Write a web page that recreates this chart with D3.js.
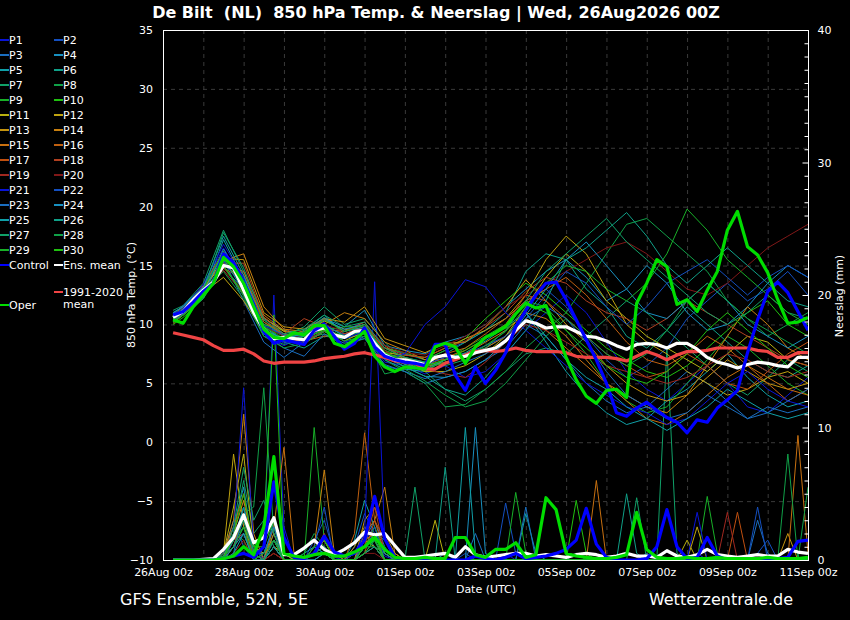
<!DOCTYPE html>
<html>
<head>
<meta charset="utf-8">
<script src="https://cdn.jsdelivr.net/npm/d3@7"></script>
<style>
body { margin: 0; background: #000; }
svg { display: block; font-family: "DejaVu Sans", sans-serif; }
</style>
</head>
<body>
<script>
// time steps (hours after 26Aug 00z)
var hours6 = d3.range(6, 385, 6);
var hours12 = [6].concat(d3.range(12, 385, 12));
var dateLabels = ["26Aug 00z", "28Aug 00z", "30Aug 00z", "01Sep 00z", "03Sep 00z",
                  "05Sep 00z", "07Sep 00z", "09Sep 00z", "11Sep 00z"];

// 6-hourly main lines, temperature (°C)
var ensMeanT = [10.6,11.1,12.1,12.9,13.6,15.0,14.8,12.9,11.0,9.6,8.8,8.9,8.8,8.7,9.5,9.7,
                9.1,8.9,9.4,9.5,8.4,7.4,7.0,7.0,6.8,6.6,7.2,7.4,7.2,7.3,7.6,7.8,
                8.0,8.6,9.5,10.3,10.1,9.7,9.8,9.8,9.4,9.0,8.9,8.6,8.2,7.9,8.3,8.4,
                8.3,8.0,8.4,8.4,7.9,7.2,6.8,6.6,6.3,6.6,6.8,6.7,6.5,6.4,7.2,7.2];
var controlT = [10.8,11.1,11.9,12.8,13.5,16.0,15.2,13.6,11.7,9.4,8.4,8.7,8.5,8.3,9.5,10.0,
                9.0,7.9,8.4,9.7,8.1,7.3,7.0,6.8,6.7,6.5,8.3,8.3,5.7,4.4,6.4,5.0,
                6.1,7.6,9.8,11.2,12.5,13.5,13.6,12.1,10.4,8.7,7.0,5.0,2.5,2.2,2.9,3.4,
                2.7,2.1,1.7,0.8,1.9,1.7,2.9,3.6,4.4,7.6,10.4,12.8,13.6,12.7,11.1,9.5];
var operT = [10.4,10.1,11.5,12.5,13.5,15.7,14.9,13.5,11.5,9.6,8.9,8.8,9.3,9.1,9.9,9.9,
             8.4,8.1,8.7,9.4,7.3,6.4,6.0,6.4,6.3,6.2,8.1,8.4,8.1,6.7,8.1,8.9,
             9.3,9.8,10.9,11.8,11.4,11.6,9.5,7.2,5.3,3.9,3.3,4.4,4.5,3.8,11.8,13.5,
             15.5,14.9,11.7,12.1,11.1,12.9,14.5,18.0,19.6,16.6,15.9,14.4,12.1,10.1,10.2,10.6];
var climT = [9.3,9.1,8.9,8.7,8.2,7.8,7.8,7.9,7.5,6.9,6.7,6.8,6.8,6.8,6.9,7.1,
             7.2,7.3,7.5,7.6,7.4,7.2,6.9,6.8,6.7,6.2,6.2,6.7,7.0,7.4,7.7,7.8,
             7.7,7.8,8.0,7.8,7.7,7.7,7.7,7.6,7.3,7.2,7.2,7.2,7.1,6.9,7.3,7.7,
             7.4,7.0,7.4,7.7,7.7,7.8,8.0,8.0,8.0,8.0,7.8,7.7,7.2,7.2,7.6,7.6];

// 6-hourly main lines, precipitation (mm)
var ensMeanP = [0,0,0,0.05,0.1,0.8,1.7,3.4,1.3,1.7,3.2,0.4,0.4,0.9,1.5,0.8,
                0.4,0.8,1.3,2.1,1.9,2.0,1.1,0.2,0.2,0.3,0.4,0.5,0.2,1.0,0.4,0.2,
                0.3,0.4,0.5,0.5,0.3,0.4,0.3,0.2,0.4,0.5,0.4,0.2,0.3,0.5,0.3,0.3,
                0.2,0.7,0.3,0.2,0.4,0.8,0.4,0.3,0.2,0.3,0.4,0.3,0.3,0.8,0.6,0.5];
var controlP = [0,0,0,0,0,0.1,0.3,0.5,0.2,1.0,5.9,1.7,0.2,0.1,0.5,1.8,
                0.6,0.3,0.5,1.5,4.8,1.6,0.2,0,0,0,0,0,0,0,0.3,0.1,
                0,0.2,0.5,0.1,0.2,0.3,0.5,0.8,1.5,3.9,1.2,0.2,0,0,0,0.1,
                1.0,3.8,1.0,0.1,0.2,1.7,0.3,0,0,0,0,0,0.1,0.2,1.4,1.5];
var operP = [0,0,0,0,0,0.1,0.3,1.0,0.4,2.5,7.8,0.5,0.3,0.2,0.4,0.5,
             0.3,0.3,0.6,1.0,1.7,0.8,0.2,0.1,0.1,0.2,0.1,0.1,1.7,1.7,0.4,0.2,
             0.8,0.8,1.3,0.2,0.4,4.7,3.8,0.5,0.3,0.2,0.1,0.1,0.2,0.4,3.6,0.8,
             0.2,0.1,0.1,0.2,0.1,0.1,0.2,0.1,0.1,0.1,0.1,0.2,0.1,0.1,0.1,0.2];

// perturbed members, 12-hourly temperature (°C)
var membersT = [
  [10.8,11.3,13.2,16.5,13.5,9.0,8.2,9.0,10.2,8.5,9.0,6.8,6.5,5.8,6.5,5.5,6.0,7.5,9.5,11.0,12.5,11.0,8.5,6.0,4.5,3.5,5.0,6.5,5.0,3.0,2.5,4.0,5.5],
  [10.2,11.0,12.6,14.8,13.0,10.0,9.2,8.5,9.8,9.5,10.2,8.0,7.5,7.0,7.8,8.5,9.5,10.5,12.0,13.0,11.5,9.0,7.0,5.5,6.5,8.0,10.5,12.0,13.5,12.0,13.0,14.5,12.5],
  [11.0,11.5,13.0,15.5,12.0,8.5,7.2,8.5,9.5,8.0,9.0,6.5,6.0,5.0,5.5,6.0,7.0,8.0,10.0,9.0,7.0,5.0,3.5,2.5,3.0,4.5,6.0,5.0,3.5,2.0,3.0,2.5,3.0],
  [10.5,11.2,12.8,16.0,14.0,10.5,9.5,9.2,10.5,9.8,11.2,8.2,7.8,7.5,8.5,9.0,10.0,11.5,13.0,14.5,15.5,14.0,12.0,13.0,15.0,13.5,11.0,9.5,10.0,11.5,13.5,15.0,14.0],
  [10.9,11.0,12.5,17.2,13.8,9.5,8.8,9.5,10.8,9.2,9.8,7.0,6.2,6.0,7.0,7.5,8.0,9.0,11.0,8.5,6.0,4.0,2.5,1.5,2.0,3.5,4.5,6.0,7.5,5.5,4.0,3.0,3.5],
  [10.3,10.8,12.3,15.0,12.5,9.2,8.5,8.0,9.0,8.8,9.2,7.5,7.2,6.8,7.5,8.5,9.5,11.0,14.5,16.0,15.5,13.0,11.5,9.0,8.0,9.5,11.5,10.0,8.5,7.0,6.0,5.5,6.5],
  [11.2,11.6,13.5,18.0,14.5,10.2,9.0,9.8,11.5,10.0,10.5,8.5,6.8,6.0,4.5,3.5,4.5,6.0,7.5,8.0,7.5,9.0,10.5,12.0,11.0,9.5,8.0,6.5,5.0,4.0,5.5,7.0,6.0],
  [10.6,11.0,12.9,14.5,12.2,9.0,8.3,8.8,9.2,8.2,8.8,7.0,6.0,5.0,3.0,3.2,4.5,6.0,8.0,9.5,11.0,13.5,16.0,18.5,19.0,17.5,16.0,14.5,12.0,10.5,9.0,10.0,11.0],
  [10.4,11.1,12.6,15.8,13.2,9.8,9.0,9.3,10.0,9.0,9.6,7.8,7.2,6.5,7.0,8.0,9.0,10.0,12.0,11.5,9.5,7.5,5.0,3.5,2.5,3.0,5.0,7.0,9.0,8.0,6.5,5.0,4.0],
  [10.0,10.6,12.2,14.8,12.8,10.0,9.5,8.8,9.5,9.8,9.8,8.0,7.6,7.0,7.8,8.8,10.5,12.0,13.5,12.5,11.0,9.5,8.0,7.0,6.0,5.5,6.5,8.0,9.5,11.0,12.0,10.0,9.0],
  [10.7,11.4,13.1,15.2,13.6,10.6,9.4,9.2,10.3,9.6,9.6,7.2,6.8,6.0,6.0,6.5,7.5,9.0,11.5,14.0,16.0,14.5,12.0,10.5,9.0,8.0,7.0,6.0,7.5,9.0,8.5,7.0,6.5],
  [10.5,11.0,12.7,14.0,12.0,9.4,8.6,8.4,9.4,8.6,9.4,7.6,7.4,7.2,8.0,8.8,9.5,10.5,12.5,15.5,17.5,16.0,13.0,10.0,8.5,7.5,6.0,5.0,4.0,4.5,5.5,6.0,5.0],
  [10.8,11.5,13.0,15.6,15.5,11.0,9.8,9.6,10.5,10.2,11.5,8.8,8.2,7.6,8.4,8.5,9.8,11.5,13.8,12.0,10.0,8.5,6.5,5.0,4.0,3.5,4.0,5.5,7.0,6.0,5.0,4.5,5.0],
  [10.1,10.8,12.4,15.4,16.0,11.5,9.6,9.4,10.0,11.0,10.5,8.5,7.8,7.0,7.0,7.5,8.5,9.5,11.0,10.5,9.0,7.0,5.0,4.0,3.0,2.5,4.0,6.5,9.0,11.5,10.0,8.0,7.0],
  [10.6,11.2,12.8,15.0,14.5,10.8,9.5,9.0,9.6,9.4,10.0,8.2,7.0,6.4,6.8,7.2,8.0,9.0,10.5,9.5,8.0,6.5,5.0,3.5,2.0,1.5,2.5,4.0,5.5,6.5,5.5,4.5,4.0],
  [10.4,11.0,12.5,14.8,13.8,10.2,9.2,8.6,9.0,9.2,9.6,8.0,7.2,6.6,7.5,8.0,9.2,10.5,12.0,13.0,14.0,12.5,10.5,8.5,7.0,6.5,7.5,9.0,8.0,6.5,5.0,3.5,4.5],
  [10.9,11.3,13.3,16.2,14.2,10.4,9.0,9.4,10.5,9.4,10.2,7.6,7.0,6.5,7.2,7.8,8.8,10.0,12.5,12.0,10.5,9.0,7.5,6.5,5.5,6.0,7.5,6.5,5.0,4.5,6.0,7.5,8.5],
  [10.3,10.9,12.4,15.2,15.2,10.6,9.2,10.5,9.8,9.2,9.8,8.0,7.4,7.2,8.0,8.6,9.8,11.0,12.8,14.0,13.5,12.0,11.0,10.5,9.5,10.5,12.0,11.0,10.0,9.0,8.0,7.0,6.5],
  [10.7,11.2,12.9,14.6,12.6,9.6,8.7,8.6,9.4,9.0,9.8,7.8,6.6,6.2,5.8,5.5,6.8,8.5,10.0,9.5,8.5,7.5,6.5,6.0,5.5,5.0,5.5,6.5,7.5,7.0,6.0,5.5,6.0],
  [10.5,11.0,12.6,14.8,12.8,9.8,9.0,9.0,10.0,9.4,10.0,8.2,7.6,7.4,8.2,9.0,10.0,11.5,12.5,13.5,14.5,15.5,16.5,17.0,16.0,14.5,13.0,12.5,13.5,15.0,16.5,17.5,18.5],
  [10.8,11.4,13.4,16.8,14.0,9.5,8.4,8.6,9.8,8.8,9.4,7.0,7.5,10.0,11.5,13.8,13.2,11.0,9.5,8.0,6.5,5.0,4.0,3.0,2.5,1.5,2.0,3.5,5.0,6.0,4.5,3.5,3.0],
  [10.2,10.9,12.6,15.3,13.2,9.9,9.1,9.0,9.9,9.1,9.7,7.5,7.0,6.6,7.2,7.5,8.2,9.0,10.5,12.5,14.5,13.5,11.5,10.0,11.5,13.5,14.5,15.5,14.0,12.5,14.0,15.0,14.0],
  [10.9,11.6,13.2,16.0,13.0,9.2,8.0,7.3,9.2,8.4,8.8,6.6,6.0,5.4,6.0,6.8,7.5,8.5,10.5,11.5,10.5,8.5,6.0,4.0,3.0,2.0,2.5,4.0,3.0,2.0,2.5,3.5,4.5],
  [10.4,11.0,12.5,16.4,13.5,9.5,8.8,9.2,10.4,9.6,10.0,7.4,6.4,5.6,5.5,6.0,7.0,8.5,10.8,13.0,15.5,17.0,15.0,13.0,11.0,10.5,12.0,13.5,12.0,10.0,9.0,8.0,9.0],
  [11.0,11.5,13.1,17.5,14.2,9.8,8.6,9.4,10.6,9.4,9.8,7.4,6.6,6.2,7.0,7.6,8.6,9.8,11.0,9.0,7.0,5.5,4.5,3.0,2.0,1.0,2.0,3.0,4.5,3.5,2.5,2.0,2.5],
  [10.3,10.8,12.2,15.6,12.8,9.4,8.6,9.0,10.0,9.0,9.4,7.2,6.4,5.6,4.5,4.0,5.5,7.5,9.5,12.0,15.5,16.5,18.0,19.5,17.5,15.0,13.5,15.0,16.5,15.0,13.5,12.0,11.5],
  [10.6,11.1,12.8,17.8,14.8,10.4,9.2,9.6,10.8,9.8,10.2,8.0,7.2,6.8,6.5,7.0,8.0,9.5,12.0,14.5,16.0,17.5,19.0,17.0,15.5,14.0,12.5,11.0,10.0,11.0,12.5,11.0,10.5],
  [10.5,11.0,12.7,15.0,12.4,9.0,8.0,8.4,9.4,8.6,9.0,5.8,6.2,5.2,4.0,3.0,3.5,5.0,7.0,9.0,10.5,9.0,7.5,6.5,7.5,9.5,12.0,13.5,12.0,10.5,9.5,8.5,7.5],
  [10.8,11.3,13.0,16.2,13.6,9.8,8.8,9.4,10.4,9.4,10.0,7.6,6.8,6.2,6.8,7.2,8.2,9.4,11.5,13.5,15.0,14.5,13.0,12.0,13.5,16.0,19.8,18.0,15.5,14.0,12.5,11.0,10.0],
  [10.2,10.8,12.4,15.0,12.6,9.4,8.6,8.8,9.6,9.0,9.6,7.6,7.0,6.4,7.0,7.8,8.8,10.0,11.8,11.0,9.5,8.0,6.5,5.5,5.0,6.0,7.5,9.5,11.0,9.5,8.0,6.5,5.5]
];

// perturbed members, 6-hourly precipitation (mm)
var membersP = [
  [0,0,0,0,0,0.3,1.5,2.0, 0.5,1.0,20,2.5,0,0,0.5,1.0, 0.2,0,0.5,2.0,1.5,0.3,0,0, 0,0,0,0,0,0,0,0, 0,0.5,0,0,0,0,0,0, 0,0,0,0,0,0,0,0, 0,0,0,0,0.5,0,0,0, 0,0,0,0,0,0,0,0],
  [0,0,0,0,0,0.5,3.0,1.0, 0,0.5,1.5,0.5,0,0,1.5,3.0, 0.5,0,1.0,3.5,2.0,0.5,0,0, 0,0,0,0,0,0.5,0,0, 0,4.3,0.5,0,0,0,0,0, 0,0,0,0,0,0,0,0, 0,0,0,0,0,0,0,0, 0,0,0.5,1.5,0,0,0,0],
  [0,0,0,0,0,0,0.5,4.0, 1.0,0.2,2.0,0,0,0,1.0,0.5, 0,0,0,1.5,3.0,1.0,0,0, 0,0,0,0,0,0,2.0,0, 0,0,0,0,0,0,0,0, 0,0,0,0,0,0,0,0.5, 0,0,0,0,0,0,0,0, 0,0,3.0,0.5,0,0,0,0],
  [0,0,0,0,0,0.8,2.5,5.5, 0.5,0,3.0,0.5,0,0,0.5,1.0, 0,0,0.5,2.0,1.0,0,0,0, 0,0,0,0,0,0,0,0, 0,0,0,0,0,0,0,0, 0,0,0,0,0,0,0,0, 0,0,0,0,0,0,0,0, 0,0,0,0,0,0,0,0],
  [0,0,0,0,0,0,1.0,2.5, 0,0,1.5,0.5,0,0.5,1.0,0.5, 0,0,1.5,4.5,2.5,0.5,0,0, 0,0,0,0.5,0,0,0,0, 0,0,0,3.5,0.5,0,0,0, 0,0,0,0,0,0,0,0, 0,0,0,0,0,0,0,0, 0,0,0,0,0,0,0,0],
  [0,0,0,0,0,0.5,1.5,3.0, 1.0,0.5,2.5,0,0,0,0.5,0.5, 0,0,0,1.0,2.0,1.5,0.5,0, 0,0,0,0,0,0,0,0, 0,0,0,0,0,0,0,0, 0,0,0,0,0,5.0,0.5,0, 0,0,0,0,0,0,0,0, 0,0,0,0,0,0,0,0],
  [0,0,0,0,0,0,2.0,6.0, 2.0,3.0,1.0,0,0,0,0.5,1.5, 0.5,0,0,1.0,1.5,0,0,0, 0,0,0,0,0,0,0,0, 0,0,0,0,0,0,0,0, 0,0,0,0,0,0,0,0, 0,16,0.5,0,0,0,0,0, 0,0,0,0,0,0,0,0],
  [0,0,0,0,0,0,1.0,3.5, 4.0,13,2.0,0,0,0.5,2.0,1.0, 0,0,0.5,1.5,1.0,0,0,0, 0,0,0,0,0,0,0,0, 0,0,0,0,0,0,0,0, 0.5,0,0,0,0,0,0,0, 0,0,0,0,0,0,0,0, 0,0,0,0,0,0,0,0],
  [0,0,0,0,0,0.3,2.0,1.5, 0,0.5,2.5,0.5,0,0,10,1.5, 0,0,0,0.5,1.0,0.5,0,0, 0,0,0,0,0,0,0,0, 0,0,5.1,0.5,0,0,0,0, 0,0,0,0,0,0,0,0, 0,0,0,0,0,4.8,0.5,0, 0,0,0,0,0,0,0,0],
  [0,0,0,0,0,0,1.5,2.5, 1.0,2.0,18.5,0.5,0,0,0.5,0.5, 0,0,0,1.0,2.5,0.5,0,0, 0,0,0,0,0,0,0,0, 0,0,0,0,0,0,0,0, 4.5,0.5,0,0,0,0,0,0, 0,0,0,0,0,0,0,0, 0,0,0,0,0,0,0,0],
  [0,0,0,0,0,0.5,4.0,8.0, 1.0,0.5,1.5,0,0,0,0.5,1.0, 0,0,0.5,1.5,1.0,0,0,0, 0,0,3.0,0,0,0,0,0, 0,0,0,0,0,0,0,0, 0,0,0,0,0,0,0,0, 0,0,0,1.5,0,0,0,0, 0,0,0,0,0,0,0,0],
  [0,0,0,0,0,0.5,8.0,2.5, 0.5,0,1.0,0.5,0,0,0.5,0.5, 0,0,1.0,2.5,1.5,0,0,0, 0,0,0,0,0,0,0,0, 0,0,0,0,0,0,0,0, 0,0,0,0,0,0,0,0, 0,0,0,0,2.5,0,0,0, 0,0,0,0,0,0,0,0],
  [0,0,0,0,0,0.3,2.0,4.5, 1.0,0,2.0,0,0,0,0.5,1.5, 0,0,0,3.0,4.0,2.0,0.5,0, 0,0,0,0,0,0,0,0, 0,0,0,0,0,0,0,0, 0,0,0,0,0,0,0,0, 0,0,0,0,0,0,0,0, 0,0,0,0,0,2.0,0,0],
  [0,0,0,0,0,0.5,3.0,11, 2.0,0,1.0,0,0,0,1.0,6.8, 0.5,0,0,2.0,3.0,5.5,0.5,0, 0,0,0,0,0,0,0,0, 0,0,0,0,0,0,0,0, 0,0,0,0,0,0,0,0, 0,0,0,0,0,0,0,0, 0,0,0,0,0,0,0,0],
  [0,0,0,0,0,0,1.5,3.0, 0.5,0,2.5,8.5,0.5,0,0.5,1.0, 0,0,0,1.5,2.0,0,0,0, 0,0,0,0,0,0,0,0, 0,0,0,0,0,0,0,0, 0,0,6.0,0,0,0,0,0, 0,0,0,0,0,0,0,0, 0,0,0,0,0,0,9.4,0.5],
  [0,0,0,0,0,0.5,2.5,5.0, 0.5,0,1.5,0,0,0,0.5,0.5, 0,0,2.0,9.6,3.0,0.5,0,0, 0,0,0,0,0,0,0,0, 0,0,0,0,0,0,0,0, 0,0,0,0,0,0,0,0, 0,0,0,0,0,0,0,0, 0,0,0,0,0,0,0,0],
  [0,0,0,0,0,0,1.0,3.5, 0,0,0.5,0,0,0,0.5,2.0, 0,0,0,0.5,3.0,1.5,0,0, 0,0,0,0,0,0,0,0, 0,0,0,0,0,0,0,0, 0,0,0,0,0,0,0,0, 0,0,0,0,0,0,0,0, 3.6,0,0,0,0,0,0,0],
  [0,0,0,0,0,0.5,1.5,2.0, 0.5,0,1.0,0,0,0,0.5,0.5, 0,0,0,1.0,4.0,0.5,0,0, 0,0,0,0,0,0,0,0, 0,0,0,0,0,0,0,0, 0,0,0,0,0,0,0,0, 0,0,0,0,0,0,0,0, 0,0,0,0,0,0,0,0],
  [0,0,0,0,0,0,0.5,1.5, 0,0,0.5,0,0,0,0,0.5, 0,0,0,0.5,1.0,0,0,0, 0,0,0,0,0,0,0,0, 0,0,0,0,0,0,0,0, 0,0,0,0,0,0,0,0, 0,0,0,0,0,0,0,3.6, 0,0,0,0,0,0,0,0],
  [0,0,0,0,0,0.3,1.0,2.0, 0,0,0.5,0,0,0,0.5,0.5, 0,0,0,0.5,0.5,0,0,0, 0,0,0,0,0,0,0,0, 0,0,0,0,0,0,0,0, 0,0,0,0,0,0,0,0, 0,0,0,0,0,0,0,0, 0,0,0,0,0,0,0,0],
  [0,0,0,0,0,0.5,2.0,13, 1.0,0,1.5,0,0,0,0.5,1.0, 0,0,0.5,2.0,21,1.5,0,0, 0,0,0,0,0,0,0,0, 0,0,0,0,0,0,0,0, 0,0,0,0,0,0,0,0, 0,0,0,0,3.6,0,0,0, 0,0,0,0,0,0,0,0],
  [0,0,0,0,0,0,1.5,4.0, 0.5,0,1.0,0,0,0,1.0,4.0, 0,0,0,1.5,2.5,0,0,0, 0,0,0,0,0,0,0,0, 0,0,0,0,0,0,0,0, 0,0,0,0,0,0,0,0, 0,0,0,0,0,0,0,0, 0,0,4.0,0,0,0,0,0],
  [0,0,0,0,0,0.3,1.0,3.0, 0.5,0.5,2.5,0,0,0,0.5,0.5, 0,0,0,1.0,2.0,0.5,0,0, 0,0,0,0,0,0,0,0, 0,0,0,4.0,0,0,0,0, 0,0,0,0,0,0,0,0, 0,0,0,0,0,0,0,0, 0,0,0,0,0,0,0,0],
  [0,0,0,0,0,0,1.0,2.0, 0,0,1.5,0,0,0,0,0.5, 0,0,0,1.0,1.5,0,0,0, 0,0,0,0,0,0,10,0.5, 0,0,0,0,0,0,0,0, 0,0,0,0,0,0,0,0, 0,0,0,0,0,0,0,0, 0,0,0,0,0,0,0,0],
  [0,0,0,0,0,0,0.5,2.0, 0,0,1.0,0,0,0,0,0.5, 0,0,0,0.5,1.0,0,0,0, 0,0,0,0,0,10,0.5,0, 0,0,0,0,0,0,0,0, 0,0,0,0,0,0,0,0, 0,0,0,0,0,0,0,0, 0,0,0,0,0,0,0,0],
  [0,0,0,0,0,0.3,1.5,4.0, 0.5,0,1.0,0,0,0,0.5,1.0, 0,0,0,1.0,2.0,0.5,0,0, 0,0,0,7.0,0,0,0,0, 0,0,0,0,0,0,0,0, 0,0,0,0,0,0,0,0, 0,0,0,0,0,0,0,0, 0,0,0,0,0,0,0,0],
  [0,0,0,0,0,0,2.5,7.0, 3.0,4.5,2.0,0,0,0,0.5,1.0, 0,0,0,0.5,1.5,0,0,0, 5.5,0,0,0,0,0,0,0, 0,0,0,0,0,0,0,0, 0,0,0,0,0,0,4.7,0, 0,0,0,0,0,0,0,0, 0,0,0,0,0,0,0,0],
  [0,0,0,0,0,0.5,1.5,3.0, 0.5,0,1.5,0,0,0,0.5,0.5, 0,0,0,1.0,1.0,0,0,0, 0,0,0,0,0,0,0,0, 0,0,0,0,0,0,0,0, 0,0,0,0,0,0,0,0, 0,0,0,0,0,0,0,0, 0,0,0,0,0,8.0,0,5.5],
  [0,0,0,0,0,0.3,1.0,2.5, 0,0.5,1.5,0,0,0,0.5,0.5, 0,0,0,0.5,1.5,0,0,0, 0,0,0,0,0,0,0,0, 0,0,0,0,0,0,0,0, 0,0,0,0,0,0,0,0, 0,0,0,0,0,0,0,0, 0,0,0,0,0,0,0,0],
  [0,0,0,0,0,0,2.0,5.0, 1.0,1.0,3.0,0,0,0,1.0,1.5, 0,0,0,1.0,2.0,0,0,0, 0,0,0,0,0,0,0,0, 0,0,0,0,0,0,0,0, 0,0,0,0,0,0,0,0, 0,0,0,0,0,0,0,0, 0,0,0,0,0,0,0,0]
];

// colours of P1..P20, repeated for P21..P30
var memberColors = ["#0a14d8", "#1450c0", "#1a6ec0", "#1890c0", "#10a0a8",
                    "#10a088", "#10a068", "#10a048", "#18b028", "#20c010",
                    "#b8b010", "#c0a410", "#c49410", "#c88010", "#c87010",
                    "#c06010", "#c05010", "#b04020", "#a02820", "#801818"];
var memberNames = d3.range(1, 31).map(i => "P" + i);

var w = 850, h = 620;
var plotL = 163, plotR = 808, plotT = 30, plotB = 560;

var svg = d3.select("body")
            .append("svg")
            .attr("width", w)
            .attr("height", h)
            .style("background", "#000");

var xScale = d3.scaleLinear().domain([0, 384]).range([plotL, plotR]);
var yTemp = d3.scaleLinear().domain([-10, 35]).range([plotB, plotT]);
var yPrec = d3.scaleLinear().domain([0, 40]).range([plotB, plotT]);

svg.append("clipPath").attr("id", "plot")
    .append("rect")
    .attr("x", plotL).attr("y", plotT)
    .attr("width", plotR - plotL).attr("height", plotB - plotT);

// grid
var grid = svg.append("g")
              .attr("stroke", "#3a3a3a")
              .attr("stroke-dasharray", "4,4")
              .attr("stroke-width", 1);

grid.selectAll("line.v")
    .data(d3.range(24, 384, 24))
    .enter()
    .append("line")
    .attr("x1", d => xScale(d) + 0.5).attr("x2", d => xScale(d) + 0.5)
    .attr("y1", plotT).attr("y2", plotB);

grid.selectAll("line.h")
    .data(d3.range(-5, 35, 5))
    .enter()
    .append("line")
    .attr("x1", plotL).attr("x2", plotR)
    .attr("y1", d => yTemp(d) + 0.5).attr("y2", d => yTemp(d) + 0.5);

// lines
var plot = svg.append("g").attr("clip-path", "url(#plot)");

var line6T = d3.line().x((d, i) => xScale(hours6[i])).y(d => yTemp(d));
var line12T = d3.line().x((d, i) => xScale(hours12[i])).y(d => yTemp(d));
var line6P = d3.line().x((d, i) => xScale(hours6[i])).y(d => yPrec(d));

plot.selectAll("path.mp")
    .data(membersP)
    .enter()
    .append("path")
    .attr("d", line6P)
    .attr("fill", "none")
    .attr("stroke", (d, i) => memberColors[i % 20])
    .attr("stroke-width", 1);

plot.selectAll("path.mt")
    .data(membersT)
    .enter()
    .append("path")
    .attr("d", line12T)
    .attr("fill", "none")
    .attr("stroke", (d, i) => memberColors[i % 20])
    .attr("stroke-width", 1);

var mainLines = [
    {data: climT, gen: line6T, color: "#f04444"},
    {data: ensMeanP, gen: line6P, color: "#ffffff"},
    {data: controlP, gen: line6P, color: "#0000ff"},
    {data: operP, gen: line6P, color: "#00dd00"},
    {data: ensMeanT, gen: line6T, color: "#ffffff"},
    {data: controlT, gen: line6T, color: "#0000ff"},
    {data: operT, gen: line6T, color: "#00dd00"}
];

plot.selectAll("path.main")
    .data(mainLines)
    .enter()
    .append("path")
    .attr("d", d => d.gen(d.data))
    .attr("fill", "none")
    .attr("stroke", d => d.color)
    .attr("stroke-width", 3.2)
    .attr("stroke-linejoin", "round");

// frame
svg.append("rect")
    .attr("x", plotL + 0.5).attr("y", plotT + 0.5)
    .attr("width", plotR - plotL).attr("height", plotB - plotT)
    .attr("fill", "none")
    .attr("stroke", "#ffffff")
    .attr("stroke-width", 1);

// axes
var yAxis = d3.axisLeft(yTemp).tickValues(d3.range(-10, 36, 5)).tickSize(0).tickPadding(10);
var gy = svg.append("g").attr("transform", "translate(" + plotL + ",0)").call(yAxis);

var yAxisR = d3.axisLeft(yPrec).ticks(40).tickSize(4).tickFormat("");
var gr = svg.append("g").attr("transform", "translate(" + (plotR + 0.5) + ",0)").call(yAxisR);
gr.selectAll(".tick line").attr("x2", d => d % 10 === 0 ? -6 : -4);
gr.selectAll(".tick")
  .filter(d => d % 10 === 0)
  .append("text")
  .attr("x", 9).attr("dy", "0.32em")
  .attr("text-anchor", "start")
  .text(d => d);

var xAxis = d3.axisBottom(xScale)
              .tickValues(d3.range(0, 385, 48))
              .tickSize(0).tickPadding(8)
              .tickFormat((d, i) => dateLabels[i]);
var gx = svg.append("g").attr("transform", "translate(0," + plotB + ")").call(xAxis);

[gy, gr, gx].forEach(function(g) {
    g.select(".domain").remove();
    g.selectAll("text").attr("fill", "#fff").style("font-size", "11px")
     .style("font-family", "DejaVu Sans, sans-serif");
    g.selectAll(".tick line").attr("stroke", "#fff");
});

// axis titles
svg.append("text")
    .attr("transform", "translate(135,295) rotate(-90)")
    .attr("text-anchor", "middle")
    .attr("fill", "#fff").style("font-size", "11px")
    .text("850 hPa Temp. (°C)");

svg.append("text")
    .attr("transform", "translate(843,296) rotate(-90)")
    .attr("text-anchor", "middle")
    .attr("fill", "#fff").style("font-size", "11px")
    .text("Neerslag (mm)");

svg.append("text")
    .attr("x", 486).attr("y", 593)
    .attr("text-anchor", "middle")
    .attr("fill", "#fff").style("font-size", "11px")
    .text("Date (UTC)");

svg.append("text")
    .attr("x", 436).attr("y", 18)
    .attr("text-anchor", "middle")
    .attr("fill", "#fff")
    .style("font-size", "16px").style("font-weight", "bold")
    .style("white-space", "pre")
    .text("De Bilt  (NL)  850 hPa Temp. & Neerslag | Wed, 26Aug2026 00Z");

svg.append("text")
    .attr("x", 120).attr("y", 605)
    .attr("fill", "#fff").style("font-size", "16px")
    .text("GFS Ensemble, 52N, 5E");

svg.append("text")
    .attr("x", 793).attr("y", 605)
    .attr("text-anchor", "end")
    .attr("fill", "#fff").style("font-size", "16px")
    .text("Wetterzentrale.de");

// legend
var legend = svg.append("g").style("font-size", "11px");
var legendItems = memberNames.map(function(name, i) {
    return {name: name, color: memberColors[i % 20], col: i % 2, y: 40 + 15 * Math.floor(i / 2)};
});
legendItems.push({name: "Control", color: "#0000ff", col: 0, y: 265});
legendItems.push({name: "Ens. mean", color: "#ffffff", col: 1, y: 265});
legendItems.push({name: "1991-2020", color: "#f04444", col: 1, y: 292});
legendItems.push({name: "Oper", color: "#00dd00", col: 0, y: 305});

var li = legend.selectAll("g")
               .data(legendItems)
               .enter()
               .append("g")
               .attr("transform", d => "translate(" + (d.col ? 54 : 0) + "," + d.y + ")");
li.append("line")
  .attr("x1", 0).attr("x2", 9)
  .attr("stroke", d => d.color)
  .attr("stroke-width", 2);
li.append("text")
  .attr("x", 9).attr("dy", "0.35em")
  .attr("fill", "#fff")
  .text(d => d.name);

legend.append("text")
    .attr("x", 63).attr("y", 304).attr("dy", "0.35em")
    .attr("fill", "#fff")
    .text("mean");
</script>
</body>
</html>
